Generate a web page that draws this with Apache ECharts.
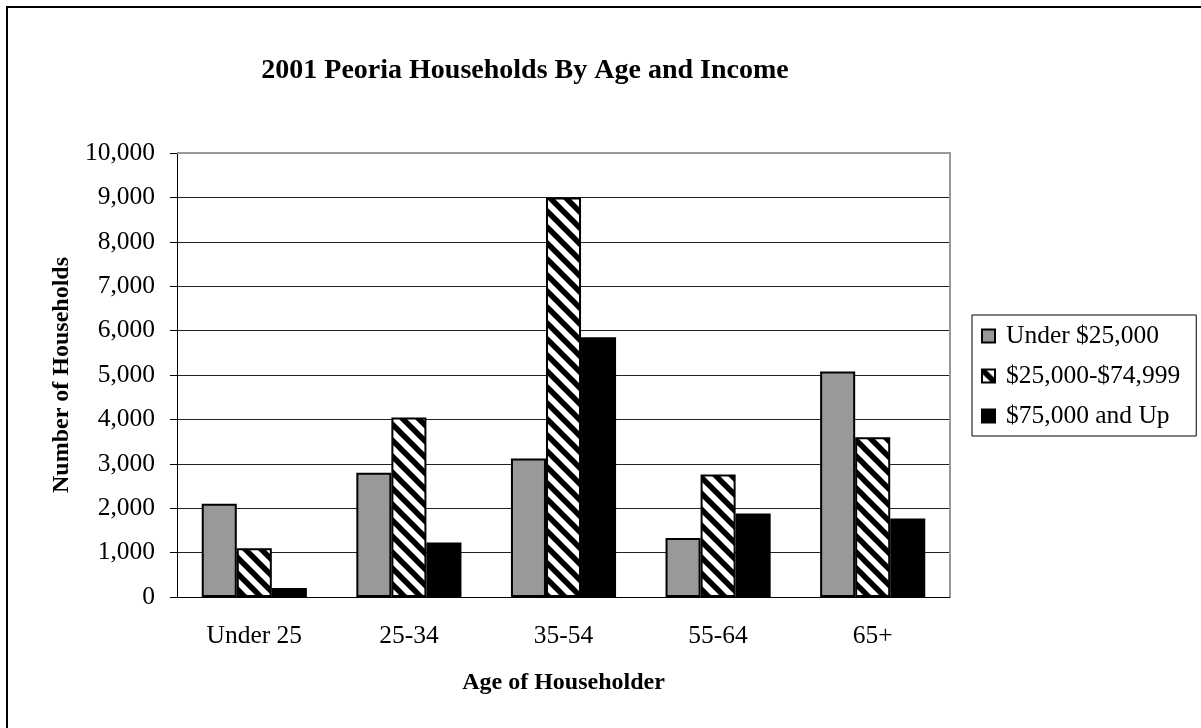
<!DOCTYPE html>
<html>
<head>
<meta charset="utf-8">
<script src="https://cdn.jsdelivr.net/npm/echarts@6/dist/echarts.min.js"></script>
<style>
  html, body { margin: 0; padding: 0; background: #fff; }
  #main { width: 1201px; height: 728px; }
</style>
</head>
<body>
<div id="main"></div>
<script>
var chartDom = document.getElementById('main');
var myChart = echarts.init(chartDom, null, { renderer: 'canvas' });

const ageGroups = ['Under 25', '25-34', '35-54', '55-64', '65+'];
const seriesNames = ['Under $25,000', '$25,000-$74,999', '$75,000 and Up'];
const under25k = [2100, 2800, 3120, 1330, 5080];
const mid25to75k = [1100, 4040, 9000, 2760, 3600];
const over75k = [200, 1230, 5850, 1880, 1770];

const font = "'Liberation Serif', 'Times New Roman', serif";

// diagonal hatch tile, stripes running top-left to bottom-right
function hatchTile() {
    const c = document.createElement('canvas');
    c.width = 16;
    c.height = 16;
    const ctx = c.getContext('2d');
    ctx.fillStyle = '#fff';
    ctx.fillRect(0, 0, 16, 16);
    ctx.strokeStyle = '#000';
    ctx.lineWidth = 5.5;
    [-16, 0, 16].forEach(function (k) {
        ctx.beginPath();
        ctx.moveTo(-4, -4 + k);
        ctx.lineTo(20, 20 + k);
        ctx.stroke();
    });
    return c;
}

var option = {
    backgroundColor: '#fff',
    animation: false,
    title: {
        text: '2001 Peoria Households By Age and Income',
        left: 520,
        textAlign: 'center',
        top: 52,
        textStyle: { fontFamily: font, fontSize: 28, fontWeight: 'bold', color: '#000' }
    },
    graphic: [{
        type: 'polyline',
        shape: { points: [[7, 728], [7, 7], [1201, 7]] },
        style: { stroke: '#000', lineWidth: 2, fill: null }
    }, {
        // plot area frame, top and right edges
        type: 'polyline',
        z: 50,
        shape: { points: [[177, 153], [950, 153], [950, 597]] },
        style: { stroke: '#999', lineWidth: 2, fill: null }
    }],
    legend: {
        orient: 'vertical',
        left: 972,
        top: 315,
        padding: [8, 16, 7, 9],
        itemGap: 14,
        itemWidth: 13,
        itemHeight: 13,
        borderColor: '#000',
        borderWidth: 1,
        icon: 'rect',
        textStyle: { fontFamily: font, fontSize: 25.5, color: '#000', lineHeight: 26, padding: [0, 0, 0, 6] },
        data: seriesNames
    },
    grid: {
        left: 177,
        right: 251,
        top: 153,
        bottom: 131
    },
    xAxis: {
        type: 'category',
        data: ageGroups,
        name: 'Age of Householder',
        nameLocation: 'middle',
        nameGap: 74,
        nameTextStyle: { fontFamily: font, fontSize: 24, fontWeight: 'bold', color: '#000' },
        axisLine: { lineStyle: { color: '#000', width: 1 } },
        axisTick: { length: 7, lineStyle: { color: '#000' } },
        axisLabel: { fontFamily: font, fontSize: 25.5, color: '#000', margin: 26 },
        splitLine: { show: false }
    },
    yAxis: {
        type: 'value',
        min: 0,
        max: 10000,
        interval: 1000,
        name: 'Number of Households',
        nameLocation: 'middle',
        nameGap: 103,
        nameTextStyle: { fontFamily: font, fontSize: 24, fontWeight: 'bold', color: '#000' },
        axisLine: { show: true, lineStyle: { color: '#000', width: 1 } },
        axisTick: { show: true, length: 7, lineStyle: { color: '#000' } },
        axisLabel: {
            fontFamily: font, fontSize: 25.5, color: '#000', margin: 22,
            formatter: function (v) { return v.toLocaleString('en-US'); }
        },
        splitLine: { showMaxLine: false, lineStyle: { color: '#222', width: 1 } }
    },
    series: [
        {
            name: seriesNames[0],
            type: 'bar',
            data: under25k,
            barGap: '0%',
            barCategoryGap: '32%',
            itemStyle: { color: '#999999', borderColor: '#000', borderWidth: 2 }
        },
        {
            name: seriesNames[1],
            type: 'bar',
            data: mid25to75k,
            itemStyle: { color: { image: hatchTile(), repeat: 'repeat' }, borderColor: '#000', borderWidth: 2 }
        },
        {
            name: seriesNames[2],
            type: 'bar',
            data: over75k,
            itemStyle: { color: '#000', borderColor: '#000', borderWidth: 2 }
        }
    ]
};
option && myChart.setOption(option);
</script>
</body>
</html>
